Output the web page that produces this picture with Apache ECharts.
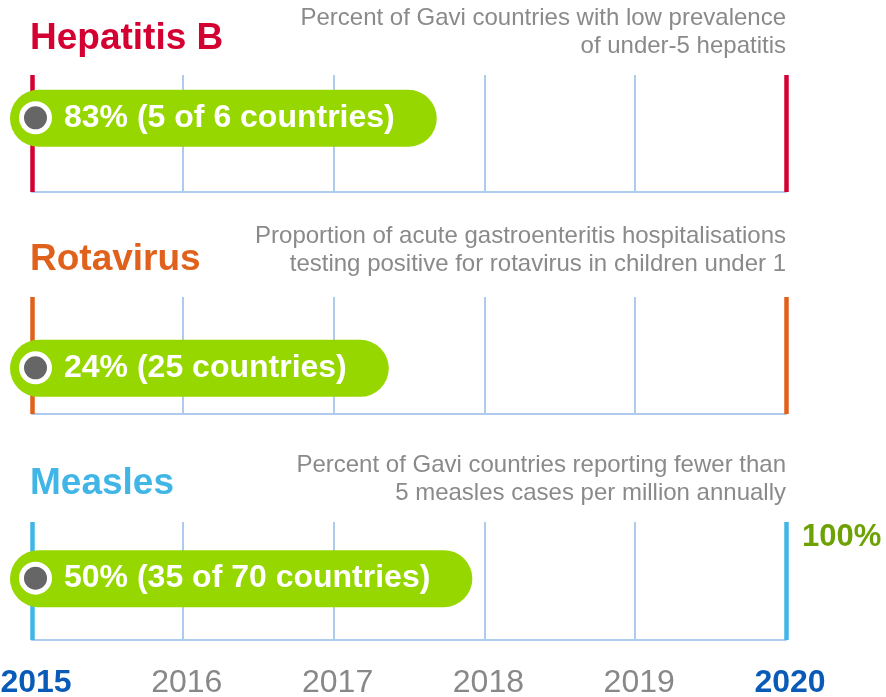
<!DOCTYPE html>
<html>
<head>
<meta charset="utf-8">
<script src="https://cdn.jsdelivr.net/npm/echarts@6/dist/echarts.min.js"></script>
<style>
  html, body { margin: 0; padding: 0; background: #fff; }
  #main { width: 886px; height: 697px; }
</style>
</head>
<body>
<div id="main"></div>
<script>
// data
const years = [2015, 2016, 2017, 2018, 2019, 2020];
const diseases = ["Hepatitis B", "Rotavirus", "Measles"];
const subtitles = [
  "Percent of Gavi countries with low prevalence\nof under-5 hepatitis",
  "Proportion of acute gastroenteritis hospitalisations\ntesting positive for rotavirus in children under 1",
  "Percent of Gavi countries reporting fewer than\n5 measles cases per million annually"
];
const baselineYear = [2015, 2015, 2015];
const values = [83, 24, 50];
const valueNotes = ["(5 of 6 countries)", "(25 countries)", "(35 of 70 countries)"];
const targetLabel = "100%";

// layout
const colors = ["#d50032", "#e0611c", "#41b6e6"];
const gridTops = [75, 297, 522];
const gridHeights = [117, 117, 118];
const pillLevel = [63, 39, 52];
const titleY = [41, 262, 486];
const subY = [18, 236, 465];
const gridColor = "#aecbee";
const font = "Liberation Sans, Arial, sans-serif";

const chart = echarts.init(document.getElementById("main"));

const grids = [], xAxes = [], yAxes = [], series = [], graphics = [];
diseases.forEach((name, i) => {
  grids.push({ left: 32, width: 754, top: gridTops[i], height: gridHeights[i],
               outerBoundsMode: "none", containLabel: false });
  const last = i === diseases.length - 1;
  xAxes.push({
    gridIndex: i, type: "value", min: years[0], max: years[years.length - 1], interval: 1,
    axisLine: { show: true, lineStyle: { color: gridColor, width: 2 } },
    axisTick: { show: false },
    splitLine: { show: true, lineStyle: { color: gridColor, width: 2 } },
    axisLabel: {
      show: last, margin: 27, padding: [0, 0, 0, 8],
      formatter: v => (v === years[0] || v === years[years.length - 1]) ? "{b|" + v + "}" : "{n|" + v + "}",
      rich: {
        b: { fontFamily: font, fontSize: 32, fontWeight: "bold", color: "#0a5bb8" },
        n: { fontFamily: font, fontSize: 32, color: "#888888" }
      }
    }
  });
  yAxes.push({ gridIndex: i, type: "value", min: 0, max: 100, show: false, splitLine: { show: false } });
  // coloured start / target lines
  series.push({
    type: "line", xAxisIndex: i, yAxisIndex: i, data: [], silent: true, z: 2,
    markLine: {
      silent: true, symbol: "none", label: { show: false }, animation: false,
      lineStyle: { color: colors[i], width: 4.5, type: "solid", opacity: 1 },
      data: [{ xAxis: years[0] }, { xAxis: years[years.length - 1] }]
    }
  });
  // value pill
  series.push({
    type: "scatter", xAxisIndex: i, yAxisIndex: i, symbolSize: 0, silent: true, z: 10,
    itemStyle: { opacity: 1 },
    data: [[baselineYear[i], pillLevel[i]]],
    label: {
      show: true, position: "inside", align: "left", verticalAlign: "middle",
      offset: [-22, 0], opacity: 1,
      formatter: "{dot|}{t|" + values[i] + "% " + valueNotes[i] + "}",
      backgroundColor: "#97d700", borderRadius: 29,
      padding: [10, 42, 11, 14],
      rich: {
        dot: { width: 23, height: 23, borderRadius: 12, backgroundColor: "#666666",
               borderColor: "#ffffff", borderWidth: 5 },
        t: { fontFamily: font, fontSize: 32, fontWeight: "bold", color: "#ffffff",
             lineHeight: 36, padding: [0, 0, 0, 17] }
      }
    }
  });
  graphics.push({
    type: "text", left: 30, top: titleY[i] - 21,
    style: { text: name, font: "bold 37px " + font, fill: colors[i] }
  });
  graphics.push({
    type: "text", x: 786, y: subY[i] - 14,
    style: { text: subtitles[i], font: "24px " + font, fill: "#8a8a8a",
             align: "right", verticalAlign: "top", lineHeight: 28 }
  });
});

graphics.push({
  type: "text", left: 802, top: 522,
  style: { text: targetLabel, font: "bold 31px " + font, fill: "#6ea204" }
});

chart.setOption({
  animation: false,
  grid: grids, xAxis: xAxes, yAxis: yAxes, series: series, graphic: graphics
});
</script>
</body>
</html>
